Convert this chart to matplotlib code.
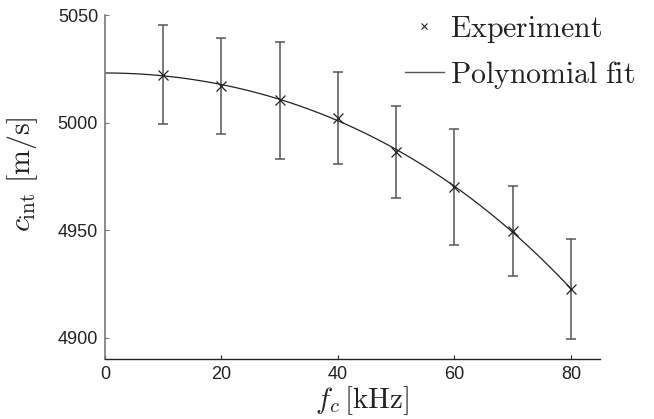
import numpy as np
import matplotlib
matplotlib.use("Agg")
import matplotlib.pyplot as plt
from matplotlib.lines import Line2D

plt.rcParams['mathtext.fontset'] = 'cm'
plt.rcParams['font.family'] = ['Liberation Sans', 'DejaVu Sans']

freq = [10, 20, 30, 40, 50, 60, 70, 80]
speed = [5022.1, 5017.2, 5010.5, 5002.0, 4986.5, 4970.3, 4949.7, 4922.6]
err_upper = [5045.4, 5039.2, 5037.3, 5023.4, 5007.9, 4996.9, 4970.7, 4945.8]
err_lower = [4999.2, 4994.7, 4983.1, 4980.9, 4965.0, 4943.2, 4928.8, 4899.4]
fit_powers = [0, 2, 4]
xticks = [0, 20, 40, 60, 80]
yticks = [4900, 4950, 5000, 5050]

freq_a = np.array(freq, dtype=float)
speed_a = np.array(speed)
yerr = np.vstack([speed_a - np.array(err_lower), np.array(err_upper) - speed_a])

# polynomial fit (even powers) of the experiment data
A = np.vstack([freq_a ** p for p in fit_powers]).T
coef, *_ = np.linalg.lstsq(A, speed_a, rcond=None)
xf = np.linspace(0, 80, 300)
yf = sum(c * xf ** p for c, p in zip(coef, fit_powers))

fig = plt.figure(figsize=(6.54, 4.19), dpi=100)
ax = fig.add_axes([0.1606, 0.1425, 0.7568, 0.8217])

ax.errorbar(freq_a, speed_a, yerr=yerr, fmt='none', ecolor='#555555',
            elinewidth=1.1, capsize=3.5, capthick=1.1)
ax.plot(freq_a, speed_a, linestyle='none', marker='x', markersize=7,
        markeredgewidth=0.9, color='#222222')
ax.plot(xf, yf, color='#222222', linewidth=0.9)

ax.set_xlim(0, 85)
ax.set_ylim(4890, 5050)
ax.set_xticks(xticks)
ax.set_yticks(yticks)
ax.tick_params(direction='in', length=3, width=0.8, labelsize=13,
               colors='#222222', pad=5)
ax.tick_params(axis='y', colors='#777777', labelcolor='#222222')
ax.spines['top'].set_visible(False)
ax.spines['right'].set_visible(False)
ax.spines['left'].set_color('#777777')
ax.spines['bottom'].set_color('#222222')
ax.spines['left'].set_linewidth(1.2)
ax.spines['bottom'].set_linewidth(1.0)

fig.text(0.034, 0.585, r'$c_{\mathrm{int}}\ [\mathrm{m/s}]$', rotation=90,
         fontsize=21.5, ha='center', va='center', color='#222222')
fig.text(0.553, 0.043, r'$f_c\,[\mathrm{kHz}]$', fontsize=21,
         ha='center', va='center', color='#222222')

h1 = Line2D([], [], linestyle='none', marker='x', markersize=4,
            markeredgewidth=0.8, color='#222222')
h2 = Line2D([], [], color='#555555', linewidth=1.0)
leg = fig.legend([h1, h2], [r'$\mathrm{Experiment}$', r'$\mathrm{Polynomial\ fit}$'],
                 loc='upper left', bbox_to_anchor=(0.61, 0.982), frameon=False,
                 fontsize=21.5, handlelength=1.3, handletextpad=0.2,
                 labelspacing=0.48, borderaxespad=0.0, borderpad=0.2)
for t in leg.get_texts():
    t.set_color('#222222')

fig.savefig('out.png', dpi=100)
